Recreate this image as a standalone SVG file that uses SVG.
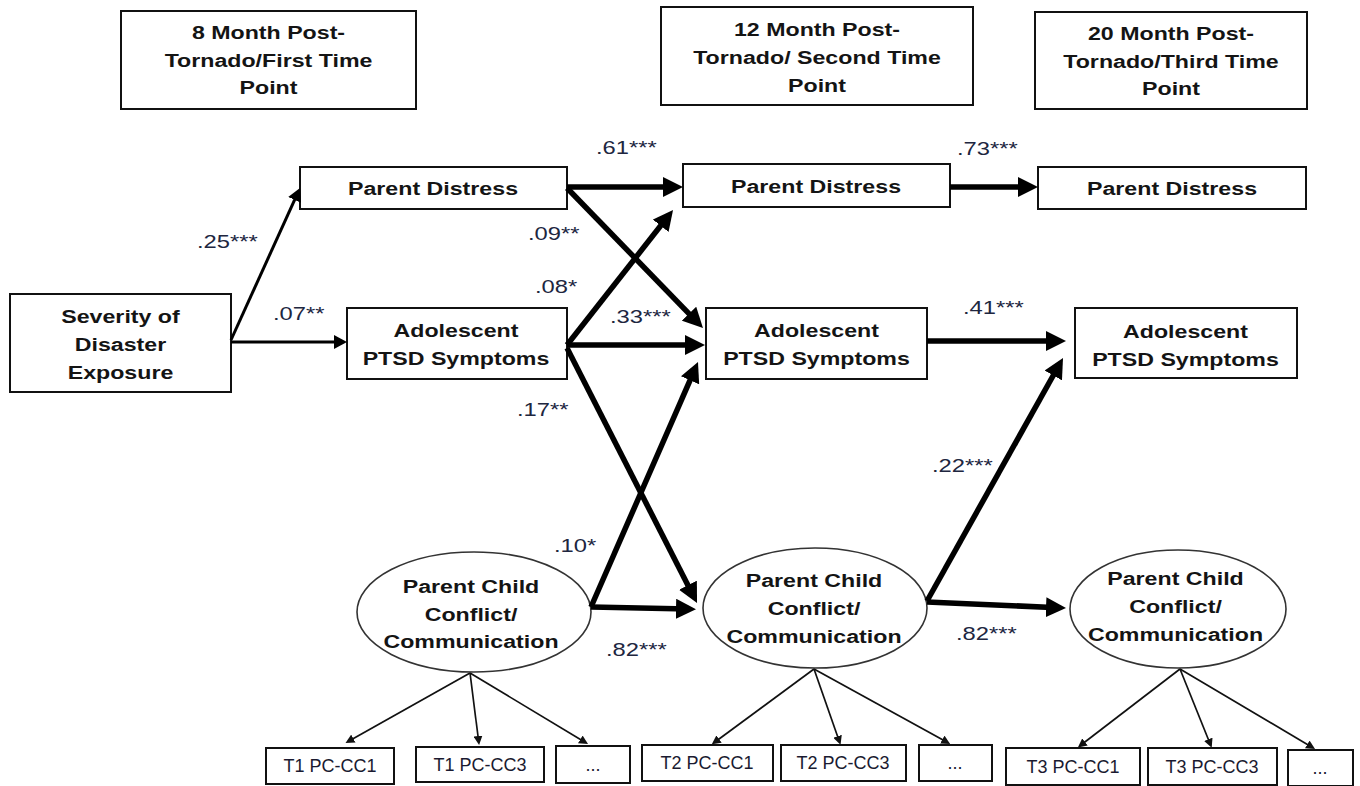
<svg xmlns="http://www.w3.org/2000/svg" width="1360" height="786" viewBox="0 0 1360 786">
<style>
.box{fill:#fff;stroke:#111;stroke-width:2}
.ell{fill:#fff;stroke:#333;stroke-width:1.6}
.nb{font-family:"Liberation Sans",Arial,sans-serif;font-weight:bold;font-size:19px;fill:#141414;text-anchor:middle}
.co{font-family:"Liberation Sans",Arial,sans-serif;font-size:19px;fill:#20263f}
.ind{font-family:"Liberation Sans",Arial,sans-serif;font-size:18px;fill:#1a1a30;text-anchor:middle}
.thick{stroke:#000;stroke-width:5.5;fill:none;marker-end:url(#big)}
.mid{stroke:#000;stroke-width:3;fill:none;marker-end:url(#midh)}
.thin{stroke:#111;stroke-width:1.7;fill:none;marker-end:url(#small)}
</style>
<defs>
<marker id="big" markerUnits="userSpaceOnUse" markerWidth="20" markerHeight="20" refX="12" refY="10" orient="auto"><path d="M0,0 L20,10 L0,20 z" fill="#000"/></marker>
<marker id="midh" markerUnits="userSpaceOnUse" markerWidth="13" markerHeight="14" refX="8" refY="7" orient="auto"><path d="M0,0 L13,7 L0,14 z" fill="#000"/></marker>
<marker id="small" markerUnits="userSpaceOnUse" markerWidth="9" markerHeight="9" refX="5" refY="4.5" orient="auto"><path d="M0,0 L9,4.5 L0,9 z" fill="#111"/></marker>
</defs>
<rect width="1360" height="786" fill="#fff"/>

<g id="header1"><rect class="box" x="121" y="11" width="295" height="98"/>
<g transform="translate(268.5,0) scale(1.22,1)"><text class="nb" x="0" y="39">8 Month Post-</text><text class="nb" x="0" y="67">Tornado/First Time</text><text class="nb" x="0" y="94">Point</text></g></g>
<g id="header2"><rect class="box" x="661" y="7" width="312" height="98"/>
<g transform="translate(817,0) scale(1.22,1)"><text class="nb" x="0" y="36">12 Month Post-</text><text class="nb" x="0" y="64">Tornado/ Second Time</text><text class="nb" x="0" y="92">Point</text></g></g>
<g id="header3"><rect class="box" x="1035" y="12" width="272" height="97"/>
<g transform="translate(1171,0) scale(1.22,1)"><text class="nb" x="0" y="40">20 Month Post-</text><text class="nb" x="0" y="68">Tornado/Third Time</text><text class="nb" x="0" y="95">Point</text></g></g>

<g id="severity"><rect class="box" x="10" y="294" width="221" height="98"/>
<g transform="translate(120.5,0) scale(1.22,1)"><text class="nb" x="0" y="323">Severity of</text><text class="nb" x="0" y="351">Disaster</text><text class="nb" x="0" y="379">Exposure</text></g></g>

<g id="pd1"><rect class="box" x="300" y="167" width="267" height="42"/>
<g transform="translate(433,0) scale(1.22,1)"><text class="nb" x="0" y="195">Parent Distress</text></g></g>
<g id="ad1"><rect class="box" x="347" y="308" width="220" height="71"/>
<g transform="translate(456,0) scale(1.22,1)"><text class="nb" x="0" y="337">Adolescent</text><text class="nb" x="0" y="365">PTSD Symptoms</text></g></g>
<g id="pcc1"><ellipse class="ell" cx="474" cy="612" rx="117" ry="60"/>
<g transform="translate(471,0) scale(1.22,1)"><text class="nb" x="0" y="593">Parent Child</text><text class="nb" x="0" y="621">Conflict/</text><text class="nb" x="0" y="648">Communication</text></g></g>

<g id="pd2"><rect class="box" x="683" y="164" width="267" height="43"/>
<g transform="translate(816,0) scale(1.22,1)"><text class="nb" x="0" y="193">Parent Distress</text></g></g>
<g id="ad2"><rect class="box" x="706" y="308" width="221" height="71"/>
<g transform="translate(816.5,0) scale(1.22,1)"><text class="nb" x="0" y="337">Adolescent</text><text class="nb" x="0" y="365">PTSD Symptoms</text></g></g>
<g id="pcc2"><ellipse class="ell" cx="815" cy="608" rx="112" ry="60"/>
<g transform="translate(814,0) scale(1.22,1)"><text class="nb" x="0" y="587">Parent Child</text><text class="nb" x="0" y="615">Conflict/</text><text class="nb" x="0" y="643">Communication</text></g></g>

<g id="pd3"><rect class="box" x="1038" y="167" width="268" height="42"/>
<g transform="translate(1172,0) scale(1.22,1)"><text class="nb" x="0" y="195">Parent Distress</text></g></g>
<g id="ad3"><rect class="box" x="1075" y="308" width="222" height="70"/>
<g transform="translate(1185.5,0) scale(1.22,1)"><text class="nb" x="0" y="338">Adolescent</text><text class="nb" x="0" y="366">PTSD Symptoms</text></g></g>
<g id="pcc3"><ellipse class="ell" cx="1178" cy="609" rx="108" ry="59"/>
<g transform="translate(1175.5,0) scale(1.22,1)"><text class="nb" x="0" y="585">Parent Child</text><text class="nb" x="0" y="613">Conflict/</text><text class="nb" x="0" y="641">Communication</text></g></g>

<g id="t1cc1"><rect class="box" x="266" y="748" width="128" height="36"/><text class="ind" x="330" y="772">T1 PC-CC1</text></g>
<g id="t1cc3"><rect class="box" x="416" y="747" width="128" height="35"/><text class="ind" x="480" y="771">T1 PC-CC3</text></g>
<g id="t1more"><rect class="box" x="556" y="746" width="74" height="37"/><text class="ind" x="593" y="771">...</text></g>
<g id="t2cc1"><rect class="box" x="642" y="745" width="131" height="36"/><text class="ind" x="707" y="769">T2 PC-CC1</text></g>
<g id="t2cc3"><rect class="box" x="781" y="745" width="125" height="36"/><text class="ind" x="843" y="769">T2 PC-CC3</text></g>
<g id="t2more"><rect class="box" x="919" y="745" width="73" height="36"/><text class="ind" x="955" y="769">...</text></g>
<g id="t3cc1"><rect class="box" x="1006" y="748" width="134" height="37"/><text class="ind" x="1073" y="773">T3 PC-CC1</text></g>
<g id="t3cc3"><rect class="box" x="1148" y="748" width="129" height="37"/><text class="ind" x="1212" y="773">T3 PC-CC3</text></g>
<g id="t3more"><rect class="box" x="1288" y="750" width="65" height="36"/><text class="ind" x="1320" y="774">...</text></g>

<g id="connectors">
<line class="mid" x1="231" y1="340" x2="297.9" y2="192.6"/>
<line class="mid" x1="231" y1="342" x2="342" y2="342"/>
<line class="thick" x1="567" y1="187" x2="675" y2="187"/>
<line class="thick" x1="567" y1="188" x2="697.4" y2="322.3"/>
<line class="thick" x1="567" y1="345" x2="668.1" y2="216.3"/>
<line class="thick" x1="567" y1="345" x2="697" y2="345"/>
<line class="thick" x1="567" y1="348" x2="693.4" y2="595.9"/>
<line class="thick" x1="591" y1="607" x2="694.8" y2="369.3"/>
<line class="thick" x1="591" y1="607" x2="688" y2="609"/>
<line class="thick" x1="950" y1="187" x2="1030" y2="187"/>
<line class="thick" x1="927" y1="341" x2="1058" y2="341"/>
<line class="thick" x1="927" y1="601" x2="1059.1" y2="365"/>
<line class="thick" x1="927" y1="602" x2="1058" y2="607.7"/>
<line class="thin" x1="470" y1="673" x2="349" y2="741"/>
<line class="thin" x1="470" y1="673" x2="478.6" y2="741"/>
<line class="thin" x1="470" y1="673" x2="584.6" y2="742"/>
<line class="thin" x1="814" y1="669" x2="715" y2="742"/>
<line class="thin" x1="814" y1="669" x2="839.2" y2="741"/>
<line class="thin" x1="814" y1="669" x2="946.7" y2="742"/>
<line class="thin" x1="1180" y1="669" x2="1081" y2="745"/>
<line class="thin" x1="1180" y1="669" x2="1210.2" y2="744"/>
<line class="thin" x1="1180" y1="669" x2="1311.6" y2="747"/>
</g>

<g id="labels">
<text class="co" transform="matrix(1.25,0,0,1,197,248)">.25***</text>
<text class="co" transform="matrix(1.25,0,0,1,273,320)">.07**</text>
<text class="co" transform="matrix(1.25,0,0,1,596,154)">.61***</text>
<text class="co" transform="matrix(1.25,0,0,1,528,240)">.09**</text>
<text class="co" transform="matrix(1.25,0,0,1,535,293)">.08*</text>
<text class="co" transform="matrix(1.25,0,0,1,610,323)">.33***</text>
<text class="co" transform="matrix(1.25,0,0,1,517,416)">.17**</text>
<text class="co" transform="matrix(1.25,0,0,1,554,552)">.10*</text>
<text class="co" transform="matrix(1.25,0,0,1,606,656)">.82***</text>
<text class="co" transform="matrix(1.25,0,0,1,957,155)">.73***</text>
<text class="co" transform="matrix(1.25,0,0,1,963,314)">.41***</text>
<text class="co" transform="matrix(1.25,0,0,1,932,472)">.22***</text>
<text class="co" transform="matrix(1.25,0,0,1,956,640)">.82***</text>
</g>
</svg>
